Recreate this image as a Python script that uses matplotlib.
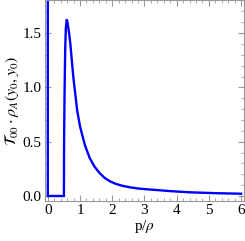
import matplotlib
matplotlib.use("Agg")
import matplotlib.pyplot as plt
from matplotlib.ticker import MultipleLocator

plt.rcParams['font.family'] = ['Liberation Serif', 'DejaVu Serif']
plt.rcParams['mathtext.fontset'] = 'stix'

# data
p_rho = [0.0, 0.0, 0.50, 0.505, 0.52, 0.54, 0.56, 0.59, 0.62, 0.66, 0.70, 0.79,
         0.91, 1.00, 1.15, 1.30, 1.45, 1.61, 1.77, 1.93, 2.1, 2.3, 2.55, 2.8,
         3.1, 3.38, 3.8, 4.41, 5.2, 6.0]
value = [5.0, 0.0, 0.0, 0.5, 0.95, 1.35, 1.55, 1.625, 1.58, 1.50, 1.40, 1.10,
         0.79, 0.64, 0.47, 0.35, 0.27, 0.21, 0.165, 0.135, 0.113, 0.095, 0.080, 0.069,
         0.061, 0.055, 0.045, 0.034, 0.026, 0.021]

xticks = [0, 1, 2, 3, 4, 5, 6]
yticks = [0.0, 0.5, 1.0, 1.5]

fig = plt.figure(figsize=(2.45, 2.41), dpi=100)
ax = fig.add_axes([0.182, 0.166, 0.814, 0.832])
ax.plot(p_rho, value, color=(0, 0, 1), lw=1.7, solid_joinstyle='miter')
ax.set_xlim(-0.1, 6.09)
ax.set_ylim(-0.046, 1.80)
ax.set_xticks(xticks)
ax.set_yticks(yticks)
ax.set_yticklabels([f"{t:.1f}" for t in yticks])
ax.xaxis.set_minor_locator(MultipleLocator(0.2))
ax.yaxis.set_minor_locator(MultipleLocator(0.1))
gray = (0.6, 0.6, 0.6)
for s in ax.spines.values():
    s.set_color(gray)
    s.set_linewidth(0.8)
ax.tick_params(which='both', direction='in', top=True, right=True, color=gray,
               labelsize=11, labelcolor='black')
ax.tick_params(which='major', length=4, width=0.8, pad=2)
ax.tick_params(which='minor', length=2, width=0.6)
ax.set_xlabel(r"p/$\rho$", fontsize=11, labelpad=1)
ax.set_ylabel(r"$\mathcal{T}_{00}\cdot\rho_A(y_0,y_0)$", fontsize=11.5, labelpad=1)
fig.savefig("out.png", dpi=100)
